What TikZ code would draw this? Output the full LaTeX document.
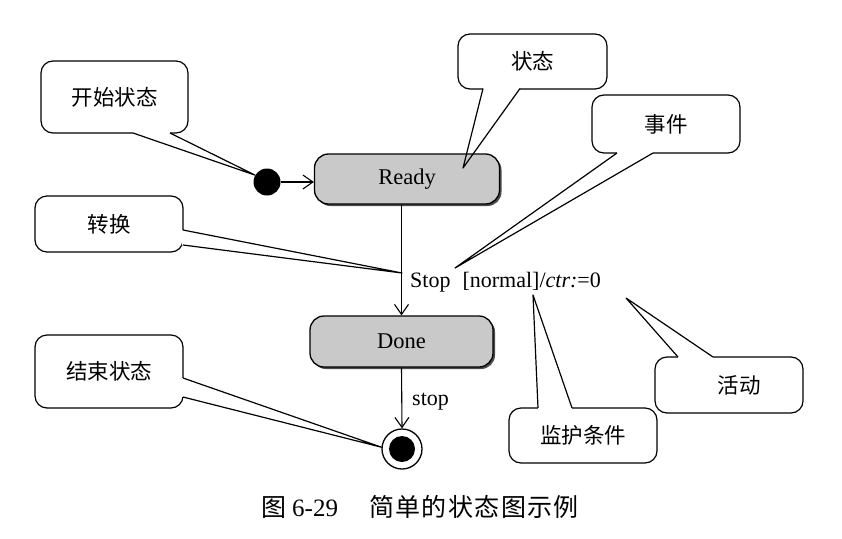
\documentclass[tikz,border=0pt]{standalone}
\usepackage{fontspec}
\setmainfont{Liberation Serif}
\newfontfamily\cjk{Noto Sans CJK SC}
\usetikzlibrary{arrows.meta,shadows,calc}
\tikzset{
  callout/.style={draw, line width=1.2pt, rounded corners=12pt, fill=white, inner sep=0pt,
    font=\cjk\fontsize{21.5}{25}\selectfont},
  tailline/.style={line width=1.2pt, line join=round},
  stbox/.style={draw, line width=1.3pt, rounded corners=14pt, fill=gray!42, inner sep=0pt,
    drop shadow={shadow xshift=2pt, shadow yshift=-2pt, fill=black!70, opacity=1},
    font=\fontsize{22.5}{26}\selectfont},
  arr/.style={line width=1.1pt, -{Straight Barb[length=10pt,width=14pt,line width=1.1pt]}},
  lbl/.style={inner sep=0pt, font=\fontsize{22}{26}\selectfont}
}
\newcommand\calltail[3]{%
  \draw[white, line width=2.6pt] (#1) -- (#2);
  \draw[tailline] (#1) -- (#3) -- (#2);
}
\newcommand\capch[1]{\makebox[26.4pt][l]{#1}}
\begin{document}
\begin{tikzpicture}[x=1pt,y=-1pt]
\useasboundingbox[fill=white] (0,0) rectangle (842,538);

% callout boxes
\node[callout, minimum width=147pt, minimum height=72pt] (cStart) at (114.5,97) {开始状态};
\node[callout, minimum width=149pt, minimum height=55pt] (cState) at (532.5,61.5) {状态};
\node[callout, minimum width=148pt, minimum height=58pt] (cEvent) at (666,124) {事件};
\node[callout, minimum width=148pt, minimum height=56pt] (cTrans) at (109,224) {转换};
\node[callout, minimum width=148pt, minimum height=73pt] (cEnd) at (109,371.5) {结束状态};
\node[callout, minimum width=148pt, minimum height=55pt] (cGuard) at (583,435.5) {监护条件};
\node[callout, minimum width=148pt, minimum height=56pt] (cAct) at (729,385) {\hspace{20pt}活动};

% states
\node[circle, fill=black, minimum size=27pt, inner sep=0pt] (init) at (267,182) {};
\node[stbox, minimum width=185pt, minimum height=50pt] (ready) at (407,179) {Ready\hspace{16pt}};
\node[stbox, minimum width=183pt, minimum height=51pt] (done) at (401.5,341.5) {Done\hspace{8pt}};
\node[circle, draw, line width=1.3pt, fill=white, minimum size=40pt, inner sep=0pt] (final) at (402,449) {};
\node[circle, fill=black, minimum size=26pt, inner sep=0pt] (finalIn) at (final.center) {};

% transitions
\draw[arr] (init.east) -- (init.east -| ready.west);
\draw[arr] (ready.south -| done.north) -- (done.north);
\draw[arr] (done.south) -- (final.north);

% labels
\node[lbl, anchor=base west] (trig) at (410,287) {Stop\hspace{12pt}[normal]/\textit{ctr:}=0};
\node[lbl, anchor=base west] (stoplbl) at (412,405) {stop};

% tail anchor points
\coordinate (sA) at (133,133); \coordinate (sB) at (170,133);
\coordinate (stA) at (483,88.5); \coordinate (stB) at (520,88.5); \coordinate (stT) at (463,168);
\coordinate (eA) at (617,153); \coordinate (eB) at (653,153); \coordinate (eT) at (455,268);
\coordinate (tA) at (183,230); \coordinate (tB) at (183,245); \coordinate (tT) at (402,273);
\coordinate (enA) at (183,378); \coordinate (enB) at (183,397);
\coordinate (gA) at (538,408); \coordinate (gB) at (572,408); \coordinate (gT) at (533,295);
\coordinate (aA) at (678,357); \coordinate (aB) at (713,357); \coordinate (aT) at (626,298);

\calltail{sA}{sB}{init.150}
\calltail{stA}{stB}{stT}
\calltail{eA}{eB}{eT}
\calltail{tA}{tB}{tT}
\calltail{enA}{enB}{final.175}
\calltail{gA}{gB}{gT}
\calltail{aA}{aB}{aT}

% caption
\node[inner sep=0pt, anchor=west, font=\fontsize{25}{29}\selectfont] (cap) at (261,507)
  {{\cjk 图}\hspace{6pt}6-29\hspace{31pt}{\cjk\capch{简}\capch{单}\capch{的}\capch{状}\capch{态}\capch{图}\capch{示}例}};
\end{tikzpicture}
\end{document}
